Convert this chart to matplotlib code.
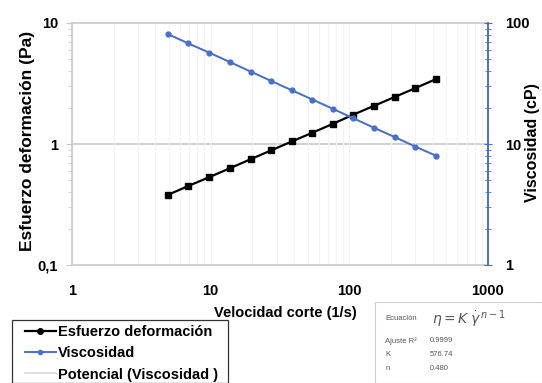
import matplotlib.pyplot as plt
import matplotlib.ticker as mticker
from matplotlib.lines import Line2D
from matplotlib.patches import Rectangle
import numpy as np

# shear rate (1/s), shear stress (Pa), viscosity (cP)
shear_rate = [4.9, 6.9, 9.8, 13.8, 19.4, 27.3, 38.5, 54.2, 76.3, 107, 151, 213, 300, 422]
stress = [0.379, 0.450, 0.533, 0.631, 0.748, 0.886, 1.05, 1.24, 1.47, 1.75, 2.07, 2.45, 2.90, 3.44]
viscosity = [81.1, 67.8, 56.8, 47.5, 39.7, 33.2, 27.8, 23.3, 19.5, 16.3, 13.6, 11.4, 9.5, 8.0]

fit_labels = ["Ajuste R\u00b2", "K", "n"]
fit_values = ["0.9999", "576.74", "0.480"]

BLUE = "#4a6fc8"
GRID = "#c8c8c8"
W, H = 542, 383

plt.rcParams['font.family'] = ['Liberation Sans', 'DejaVu Sans']

fig = plt.figure(figsize=(W / 100, H / 100), dpi=100)
ax = fig.add_axes([72 / W, 1 - 265 / H, 416 / W, 242 / H])

ax.set_xscale('log')
ax.set_yscale('log')
ax.set_xlim(1, 1000)
ax.set_ylim(0.1, 10)

# faint vertical grid
ax.grid(True, which='both', axis='x', color='#f3f3f3', lw=0.8)
ax.axhline(1, color=GRID, lw=1.2, zorder=1)

ax.plot(shear_rate, stress, color='black', marker='s', ms=5, lw=1.6, zorder=4)

for s in ['top', 'bottom', 'left']:
    ax.spines[s].set_color(GRID)
    ax.spines[s].set_linewidth(1.2)
ax.spines['right'].set_visible(False)

ax.yaxis.set_major_formatter(mticker.FuncFormatter(lambda v, p: f"{v:g}".replace('.', ',')))
ax.xaxis.set_major_formatter(mticker.FuncFormatter(lambda v, p: f"{v:g}"))
ax.yaxis.set_minor_formatter(mticker.NullFormatter())
ax.xaxis.set_minor_formatter(mticker.NullFormatter())
ax.tick_params(axis='x', which='both', length=0, pad=14, labelsize=10.5)
ax.tick_params(axis='y', which='major', length=4, color=GRID, pad=6, labelsize=10.5)
ax.tick_params(axis='y', which='minor', length=3, color=GRID)
for lab in ax.get_xticklabels() + ax.get_yticklabels():
    lab.set_fontweight('bold')

# tick marks along the y=1 line
sec = ax.secondary_xaxis(0.5)
sec.spines['bottom'].set_visible(False)
sec.spines['top'].set_visible(False)
sec.xaxis.set_major_formatter(mticker.NullFormatter())
sec.xaxis.set_minor_formatter(mticker.NullFormatter())
sec.tick_params(axis='x', which='both', direction='inout', color=GRID)
sec.tick_params(axis='x', which='major', length=6)
sec.tick_params(axis='x', which='minor', length=4)

ax2 = ax.twinx()
ax2.set_yscale('log')
ax2.set_ylim(1, 100)
ax2.plot(shear_rate, viscosity, color='#d9d9d9', lw=1, zorder=2)
ax2.plot(shear_rate, viscosity, color=BLUE, marker='o', ms=3.5, lw=1.4, zorder=3)
for s in ['top', 'bottom', 'left']:
    ax2.spines[s].set_visible(False)
ax2.spines['right'].set_color(BLUE)
ax2.spines['right'].set_linewidth(1.4)
ax2.yaxis.set_major_formatter(mticker.FuncFormatter(lambda v, p: f"{v:g}"))
ax2.yaxis.set_minor_formatter(mticker.NullFormatter())
ax2.tick_params(axis='y', which='major', direction='inout', length=6, color=BLUE, pad=9, labelsize=10.5)
ax2.tick_params(axis='y', which='minor', direction='inout', length=4, color=BLUE)
for lab in ax2.get_yticklabels():
    lab.set_fontweight('bold')

fig.text(285 / W, 1 - 313 / H, "Velocidad corte (1/s)", ha='center', va='center',
         fontsize=10.5, fontweight='bold')
fig.text(28 / W, 1 - 141 / H, "Esfuerzo deformaci\u00f3n (Pa)", rotation=90,
         ha='center', va='center', fontsize=12.5, fontweight='bold')
fig.text(532 / W, 1 - 143 / H, "Viscosidad (cP)", rotation=90,
         ha='center', va='center', fontsize=11.5, fontweight='bold')

# legend with its frame drawn separately
fig.patches.append(Rectangle((12 / W, 0), 216 / W, 63 / H, transform=fig.transFigure,
                             fill=False, edgecolor='#333333', lw=0.9))
handles = [
    Line2D([], [], color='black', marker='o', ms=4, lw=1.6),
    Line2D([], [], color=BLUE, marker='o', ms=3, lw=1.4),
    Line2D([], [], color='#d9d9d9', lw=1.2),
]
labels = ["Esfuerzo deformaci\u00f3n", "Viscosidad", "Potencial (Viscosidad )"]
fig.legend(handles, labels, loc='upper left', bbox_to_anchor=(25 / W, 1 - 325 / H),
           bbox_transform=fig.transFigure, frameon=False,
           handlelength=2.1, handletextpad=0.15, labelspacing=0.5,
           borderpad=0, borderaxespad=0, prop={'size': 10.5, 'weight': 'bold'})

# fit summary box
box = fig.add_axes([375 / W, 0, 1 - 375 / W, 1 - 302 / H])
box.set_xticks([])
box.set_yticks([])
for s in box.spines.values():
    s.set_color('#d0d0d0')
box.text(0.06, 0.80, "Ecuaci\u00f3n", fontsize=5.5, color='#555555', va='center', transform=box.transAxes)
box.text(0.34, 0.79, r"$\eta = K\;\dot{\gamma}^{\,n-1}$", fontsize=10, color='#555555',
         va='center', transform=box.transAxes)
for i, (lab, val) in enumerate(zip(fit_labels, fit_values)):
    y = 0.52 - i * 0.17
    box.text(0.06, y, lab, fontsize=5.5, color='#555555', va='center', transform=box.transAxes)
    box.text(0.33, y, val, fontsize=5.5, color='#555555', va='center', transform=box.transAxes)

fig.savefig("out.png", dpi=100)
